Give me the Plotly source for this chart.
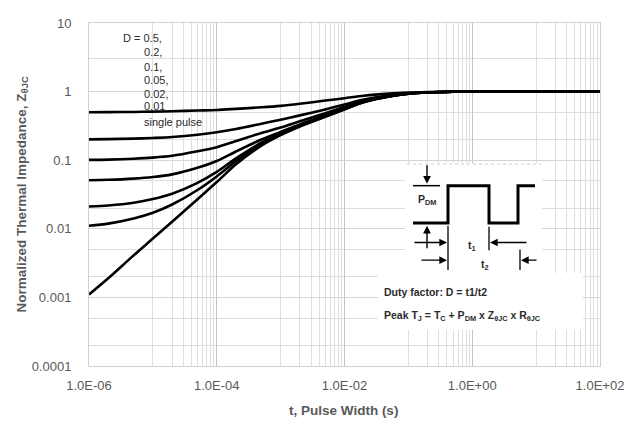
import plotly.graph_objects as go

# ---------------- data ----------------
t = [1e-6, 2e-6, 5e-6, 1e-5, 2e-5, 5e-5, 1e-4, 2e-4, 5e-4, 1e-3, 2e-3, 5e-3,
     1e-2, 2e-2, 5e-2, 1e-1, 2e-1, 5e-1, 1, 10, 100]

z_d050 = [0.500, 0.502, 0.505, 0.510, 0.517, 0.530, 0.540, 0.560, 0.590, 0.620, 0.665,
          0.740, 0.800, 0.870, 0.935, 0.968, 0.986, 0.998, 1.0, 1.0, 1.0]
z_d020 = [0.201, 0.203, 0.206, 0.211, 0.218, 0.235, 0.255, 0.285, 0.340, 0.390, 0.450,
          0.550, 0.650, 0.765, 0.885, 0.946, 0.977, 0.996, 1.0, 1.0, 1.0]
z_d010 = [0.101, 0.102, 0.105, 0.109, 0.116, 0.135, 0.155, 0.190, 0.250, 0.300, 0.370,
          0.485, 0.600, 0.735, 0.868, 0.938, 0.973, 0.9955, 1.0, 1.0, 1.0]
z_d005 = [0.051, 0.0518, 0.0539, 0.0568, 0.0621, 0.0775, 0.0975, 0.134, 0.200, 0.258, 0.333,
          0.455, 0.575, 0.717, 0.858, 0.934, 0.9715, 0.995, 1.0, 1.0, 1.0]
z_d002 = [0.0211, 0.0219, 0.024, 0.0271, 0.0324, 0.0467, 0.0675, 0.106, 0.180, 0.248, 0.323,
          0.440, 0.560, 0.707, 0.853, 0.931, 0.971, 0.995, 1.0, 1.0, 1.0]
z_d001 = [0.0111, 0.0119, 0.0141, 0.0171, 0.0226, 0.0368, 0.058, 0.097, 0.172, 0.240, 0.317,
          0.435, 0.555, 0.704, 0.8515, 0.931, 0.970, 0.995, 1.0, 1.0, 1.0]
z_single = [0.0011, 0.0019, 0.0041, 0.0072, 0.0127, 0.027, 0.048, 0.087, 0.163, 0.232, 0.310,
            0.430, 0.550, 0.700, 0.850, 0.930, 0.970, 0.995, 1.0, 1.0, 1.0]

series = [("D=0.5", z_d050), ("D=0.2", z_d020), ("D=0.1", z_d010), ("D=0.05", z_d005),
          ("D=0.02", z_d002), ("D=0.01", z_d001), ("single pulse", z_single)]

x_tickvals = [1e-6, 1e-4, 1e-2, 1, 100]
x_ticktext = ["1.0E-06", "1.0E-04", "1.0E-02", "1.0E+00", "1.0E+02"]
y_tickvals = [0.0001, 0.001, 0.01, 0.1, 1, 10]
y_ticktext = ["0.0001", "0.001", "0.01", "0.1", "1", "10"]
x_minor = [k * 10.0 ** e for e in (-5, -3, -1, 1) for k in range(1, 10)]
y_minor = [3, 0.5, 0.2, 0.05, 0.02, 0.005, 0.002, 0.0005, 0.0002]

label_lines = ["D = 0.5,", "0.2,", "0.1,", "0.05,", "0.02,", "0.01", "single pulse"]

# ---------------- layout geometry ----------------
# the page body has an 8px margin, so the figure is 8px smaller than the window
OFF = 8
W, H = 632 - OFF, 433 - OFF
# plot area on screen: x 89..600, y 16..366
SX0, SX1, SY0, SY1 = 89, 600, 16, 366
L, T = SX0 - OFF, SY0 - OFF
R, B = W - (SX1 - OFF), H - (SY1 - OFF)
PW, PH = SX1 - SX0, SY1 - SY0
FONT = "Liberation Sans, Arial, sans-serif"


def px(x):  # screen pixel -> paper
    return (x - SX0) / PW


def py(y):
    return (SY1 - y) / PH


fig = go.Figure()
for name, z in series:
    fig.add_trace(go.Scatter(x=t, y=z, mode="lines", name=name,
                             line=dict(color="black", width=2.6, shape="spline", smoothing=0.8),
                             showlegend=False, hoverinfo="skip"))

shapes = []
annotations = []

# inset white boxes
shapes.append(dict(type="rect", xref="paper", yref="paper", x0=px(405), x1=px(542),
                   y0=py(271), y1=py(159), fillcolor="white", line=dict(width=0), layer="above"))
shapes.append(dict(type="rect", xref="paper", yref="paper", x0=px(378), x1=px(583),
                   y0=py(329), y1=py(271), fillcolor="white", line=dict(width=0), layer="above"))
shapes.append(dict(type="line", xref="paper", yref="paper", x0=px(407), x1=px(541),
                   y0=py(160), y1=py(160), line=dict(color="#cfcfcf", width=1, dash="dot"),
                   layer="above"))

# waveform
wave = [(413, 220), (448, 220), (448, 182), (489, 182), (489, 220), (518, 220), (518, 182), (535, 182)]
path = "M " + " L ".join(f"{px(a):.5f},{py(b):.5f}" for a, b in wave)
shapes.append(dict(type="path", xref="paper", yref="paper", path=path,
                   line=dict(color="black", width=3), layer="above"))


def seg(x0, y0, x1, y1, w=1.3):
    shapes.append(dict(type="line", xref="paper", yref="paper", x0=px(x0), y0=py(y0),
                       x1=px(x1), y1=py(y1), line=dict(color="black", width=w), layer="above"))


seg(413, 182, 440, 182, 1.5)
seg(448, 223, 448, 268)
seg(489, 224, 489, 248)
seg(520, 247, 520, 268)


def arrow(hx, hy, ax, ay):
    annotations.append(dict(xref="paper", yref="paper", x=px(hx), y=py(hy), ax=ax, ay=ay,
                            text="", showarrow=True, arrowhead=2, arrowsize=1.1,
                            arrowwidth=1.4, arrowcolor="black", standoff=0))


arrow(427, 180, 0, -20)
arrow(427, 223, 0, 24)
arrow(447, 240, -34, 0)
arrow(490, 240, 38, 0)
arrow(447, 258, -27, 0)
arrow(521, 258, 17, 0)

TXT = "#2b2b2b"


def text(s, x, y, size=10.5, bold=True, xanchor="left"):
    annotations.append(dict(xref="paper", yref="paper", x=px(x), y=py(y), text=(f"<b>{s}</b>" if bold else s),
                            showarrow=False, xanchor=xanchor, yanchor="middle",
                            font=dict(family=FONT, size=size, color=TXT)))


text("P<sub>DM</sub>", 416, 197)
text("t<sub>1</sub>", 466, 244)
text("t<sub>2</sub>", 479, 263)
text("Duty factor: D = t1/t2", 382, 290)
text("Peak T<sub>J</sub> = T<sub>C</sub> + P<sub>DM</sub> x Z<sub>θJC</sub> x R<sub>θJC</sub>", 382, 315)

# D = ... labels
label_pos = [(121, 31), (142, 46), (142, 61), (142, 74), (142, 88), (142, 101), (142, 117)]
for s, (x, y) in zip(label_lines, label_pos):
    text(s, x, y, size=11, bold=False)

# axis titles
annotations.append(dict(xref="paper", yref="paper", x=px(343), y=py(411), text="<b>t, Pulse Width (s)</b>",
                        showarrow=False, xanchor="center", yanchor="middle",
                        font=dict(family=FONT, size=13.5, color="#595959")))
annotations.append(dict(xref="paper", yref="paper", x=px(22), y=0.5,
                        text="<b>Normalized Thermal Impedance, Z<sub>θJC</sub></b>",
                        showarrow=False, xanchor="center", yanchor="middle", textangle=-90,
                        font=dict(family=FONT, size=13.5, color="#595959")))

fig.update_layout(
    width=W, height=H,
    margin=dict(l=L, r=R, t=T, b=B),
    paper_bgcolor="white", plot_bgcolor="white",
    font=dict(family=FONT, size=13, color="#595959"),
    shapes=shapes, annotations=annotations,
    xaxis=dict(type="log", range=[-6, 2], tickvals=x_tickvals, ticktext=x_ticktext,
               showgrid=True, gridcolor="#c4c4c4", gridwidth=1,
               minor=dict(tickvals=x_minor, showgrid=True, gridcolor="#dedede", gridwidth=1, ticks=""),
               showline=True, linecolor="#d0d0d0", linewidth=1, mirror=True,
               ticks="outside", ticklen=7, tickcolor="rgba(0,0,0,0)", zeroline=False,
               tickfont=dict(family=FONT, size=13, color="#595959")),
    yaxis=dict(type="log", range=[-4, 1], tickvals=y_tickvals, ticktext=y_ticktext,
               showgrid=True, gridcolor="#d4d4d4", gridwidth=1,
               minor=dict(tickvals=y_minor, showgrid=True, gridcolor="#dedede", gridwidth=1, ticks=""),
               showline=True, linecolor="#d0d0d0", linewidth=1, mirror=True,
               ticks="outside", ticklen=14, tickcolor="rgba(0,0,0,0)", zeroline=False,
               tickfont=dict(family=FONT, size=13, color="#595959")),
)

fig.write_html("out.html")
